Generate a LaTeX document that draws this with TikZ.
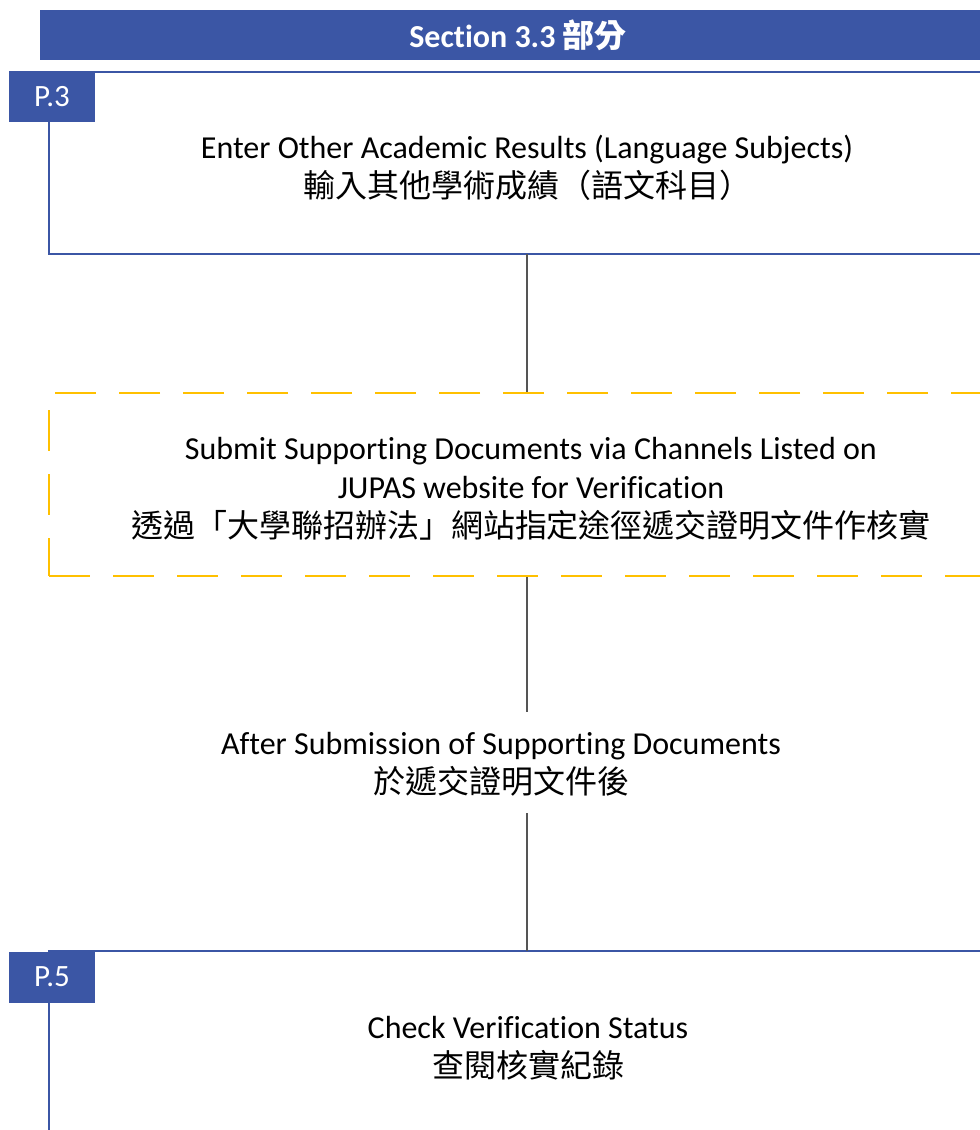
\documentclass[tikz,border=0pt]{standalone}
\usepackage{fontspec}
\setmainfont[Ligatures=CommonOff]{Carlito}
\newfontfamily\cjk{Noto Sans CJK TC}
\definecolor{jblue}{HTML}{3B56A5}
\definecolor{jorange}{HTML}{FFC000}
\definecolor{conn}{HTML}{555555}
\begin{document}
\begin{tikzpicture}[x=1pt,y=-1pt,
  txt/.style={align=center,font=\fontsize{32}{39}\selectfont,inner sep=0pt},
  tab/.style={fill=jblue,text=white,minimum width=86pt,minimum height=51pt,inner sep=0pt,font=\fontsize{31}{32}\selectfont},
  stepbox/.style={draw=jblue,line width=2pt},
  dbox/.style={draw=jorange,line width=2.8pt,dash pattern=on 41pt off 23pt},
  link/.style={draw=conn,line width=1.3pt}]
\useasboundingbox (0,0) rectangle (980,1130);
\clip (0,0) rectangle (980,1130);
% header
\node[fill=jblue,minimum width=965pt,minimum height=50pt,inner sep=0pt,anchor=north west] (hdr) at (40,10) {};
\node[text=white,font=\fontsize{32}{34}\selectfont\bfseries,inner sep=0pt] (hdrt) at (518,35) {Section 3.3 {\cjk 部分}};
% box P.3
\draw[stepbox] (1005,72) -- (49,72) -- (49,254) -- (1005,254);
\node[minimum width=956pt,minimum height=182pt,inner sep=0pt] (b1) at (527,163) {};
\node[txt] (t1) at (527,168) {Enter Other Academic Results (Language Subjects)\\{\cjk 輸入其他學術成績（語文科目）}};
\node[tab] (p3) at (52,96.5) {P.3};
% dashed box
\node[dbox,minimum width=956pt,minimum height=183pt,inner sep=0pt] (b2) at (527,484.5) {};
\node[txt] (t2) at (531,489) {Submit Supporting Documents via Channels Listed on\\JUPAS website for Verification\\{\cjk 透過「大學聯招辦法」網站指定途徑遞交證明文件作核實}};
% middle text
\node[txt] (t3) at (501,764) {After Submission of Supporting Documents\\{\cjk 於遞交證明文件後}};
\coordinate (c1) at (527,712);
\coordinate (c2) at (527,813);
% box P.5
\draw[stepbox] (1005,951) -- (49,951) -- (49,1140);
\node[minimum width=956pt,minimum height=200pt,inner sep=0pt,anchor=north] (b3) at (527,951) {};
\node[txt] (t4) at (528,1048) {Check Verification Status\\{\cjk 查閱核實紀錄}};
\node[tab] (p5) at (52,977) {P.5};
% connectors
\draw[link] (b1.south) -- (b2.north);
\draw[link] (b2.south) -- (c1);
\draw[link] (c2) -- (b3.north);
\end{tikzpicture}
\end{document}
